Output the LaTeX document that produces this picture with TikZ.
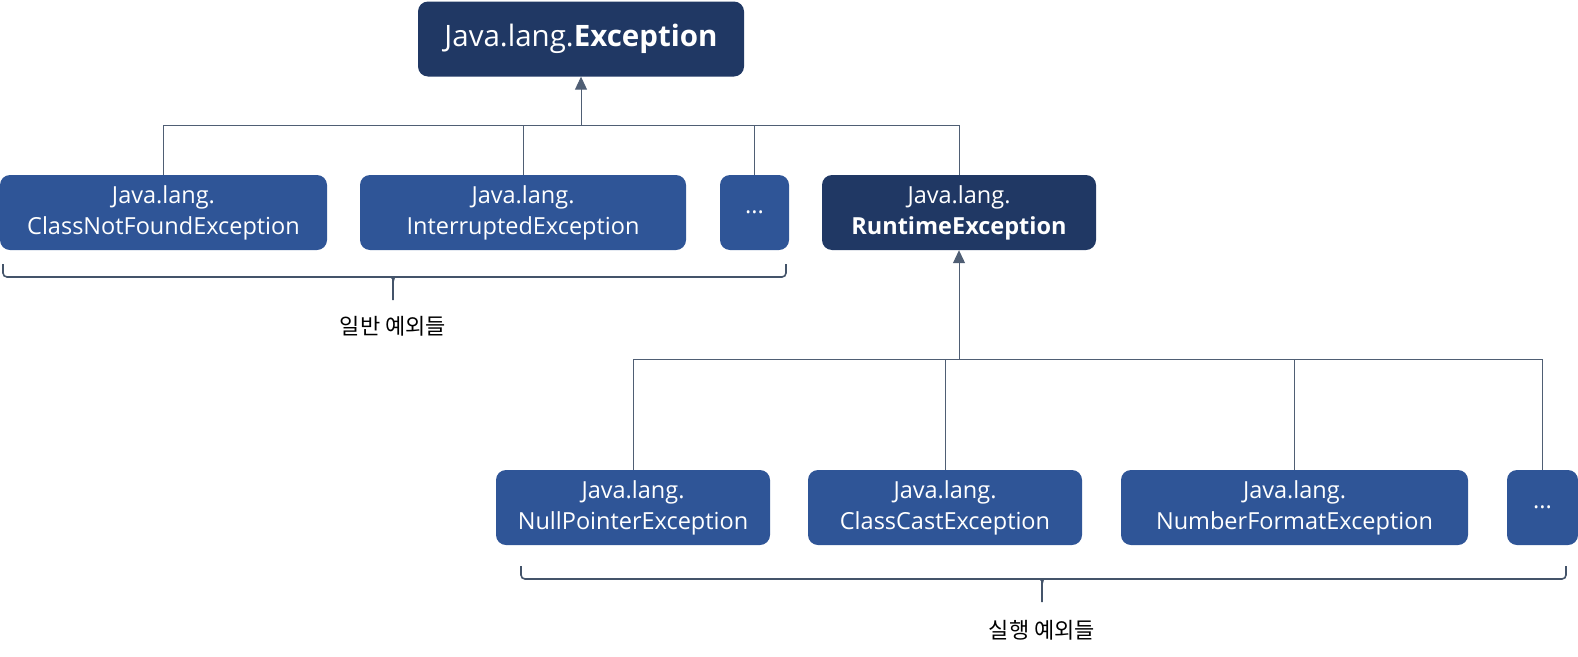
\documentclass[tikz,border=0pt]{standalone}
\usepackage{fontspec}
\setmainfont{Open Sans}
\newfontfamily\kr{Noto Sans CJK KR}
\usetikzlibrary{arrows.meta}
\definecolor{navy}{HTML}{203864}
\definecolor{blu}{HTML}{2F5597}
\definecolor{ln}{HTML}{4F5E74}
\definecolor{br}{HTML}{44546A}
\begin{document}
\begin{tikzpicture}[x=1pt,y=-1pt,
  box/.style={rounded corners=10pt, fill=blu, text=white, inner sep=0pt, align=center,
     minimum height=75pt, font=\fontsize{23.5}{31}\selectfont},
  dbox/.style={box, fill=navy},
  conn/.style={draw=ln, line width=1pt},
  arr/.style={conn, -{Triangle[width=12pt,length=13pt]}},
  brace/.style={draw=br, line width=1.6pt, rounded corners=4pt},
  lbl/.style={font=\kr\fontsize{22}{24}\selectfont, text=black, inner sep=0pt}]
\useasboundingbox (0,0) rectangle (1578,656);
% top
\node[dbox, minimum width=326pt, minimum height=75pt, font=\fontsize{29.5}{32}\selectfont] (exc) at (581,39) {Java.lang.\textbf{Exception}};
% row 1
\node[box, minimum width=327pt] (cnf) at (163.5,212.5) {Java.lang.\\ClassNotFoundException};
\node[box, minimum width=326pt] (int) at (523,212.5) {Java.lang.\\InterruptedException};
\node[box, minimum width=69pt] (dots1) at (754.5,212.5) {...};
\node[dbox, minimum width=274pt] (rt) at (959,212.5) {Java.lang.\\\textbf{RuntimeException}};
% row 2
\node[box, minimum width=274pt] (np) at (633,507.5) {Java.lang.\\NullPointerException};
\node[box, minimum width=274pt] (cc) at (945,507.5) {Java.lang.\\ClassCastException};
\node[box, minimum width=347pt] (nf) at (1294.5,507.5) {Java.lang.\\NumberFormatException};
\node[box, minimum width=71pt] (dots2) at (1542.5,507.5) {...};
% connectors level 1
\coordinate (bus1) at (581,125);
\draw[conn] (cnf.north) |- (bus1);
\draw[conn] (int.north) |- (bus1);
\draw[conn] (dots1.north) |- (bus1);
\draw[conn] (rt.north) |- (bus1);
\draw[arr] (bus1) -- (exc.south);
% connectors level 2
\coordinate (bus2) at (959,359);
\draw[conn] (np.north) |- (bus2);
\draw[conn] (cc.north) |- (bus2);
\draw[conn] (nf.north) |- (bus2);
\draw[conn] (dots2.north) |- (bus2);
\draw[arr] (bus2) -- (rt.south);
% brace 1
\coordinate (b1l) at (3,264);
\coordinate (b1m) at (393,277);
\coordinate (b1r) at (786,264);
\coordinate (b1t) at (393,300);
\draw[brace] (b1l) |- ([xshift=-5pt]b1m) to[out=0,in=90] ([yshift=-5pt]b1m) -- (b1t);
\draw[brace] (b1r) |- ([xshift=5pt]b1m) to[out=180,in=90] ([yshift=-5pt]b1m);
\node[lbl] (l1) at (393,326) {일반 예외들};
% brace 2
\coordinate (b2l) at (521,566);
\coordinate (b2m) at (1042,579);
\coordinate (b2r) at (1566,566);
\coordinate (b2t) at (1042,602);
\draw[brace] (b2l) |- ([xshift=-5pt]b2m) to[out=0,in=90] ([yshift=-5pt]b2m) -- (b2t);
\draw[brace] (b2r) |- ([xshift=5pt]b2m) to[out=180,in=90] ([yshift=-5pt]b2m);
\node[lbl] (l2) at (1042,630) {실행 예외들};
\end{tikzpicture}
\end{document}
